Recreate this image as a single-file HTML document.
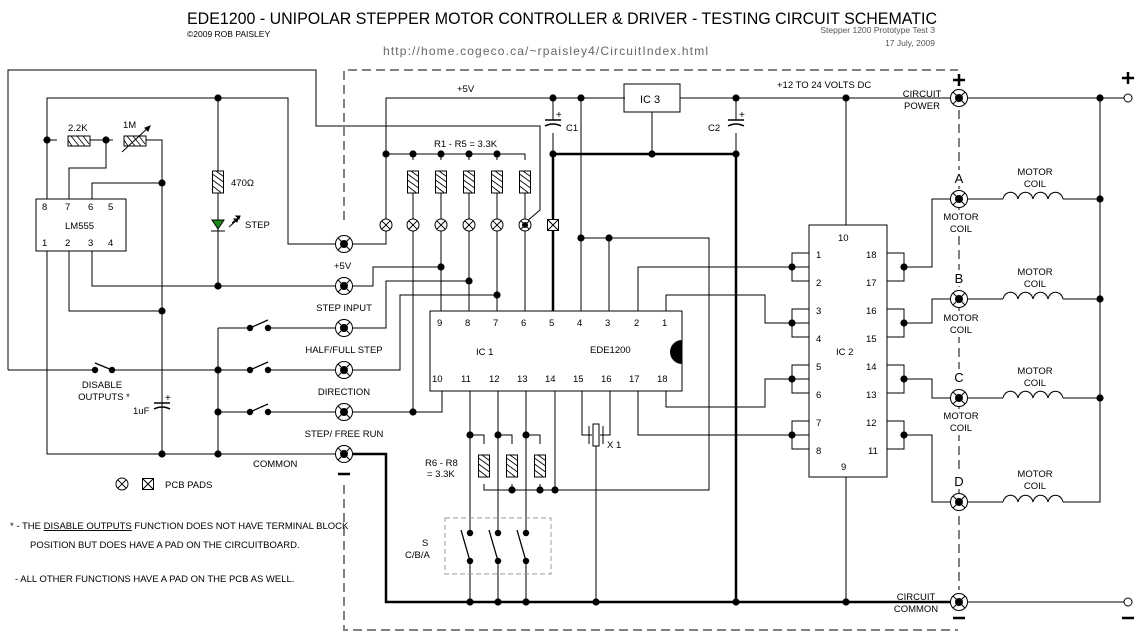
<!DOCTYPE html>
<html><head><meta charset="utf-8"><style>
html,body{margin:0;padding:0;background:#fff;}
svg{display:block;}
text{font-family:"Liberation Sans",sans-serif;font-size:9.5px;fill:#000;}
</style></head><body>
<svg width="1140" height="639" viewBox="0 0 1140 639" xmlns="http://www.w3.org/2000/svg">
<defs>
<g id="tp"><circle r="8.5" fill="#fff" stroke="#000" stroke-width="1"/><path d="M-6,-6L6,6M-6,6L6,-6" stroke="#000" stroke-width="1"/><circle r="4" fill="#000"/></g>
<g id="pp"><circle r="6" fill="#fff" stroke="#000" stroke-width="1"/><path d="M-4.2,-4.2L4.2,4.2M-4.2,4.2L4.2,-4.2" stroke="#000"/></g>
<g id="sp"><rect x="-5.5" y="-5.5" width="11" height="11" fill="#fff" stroke="#000"/><path d="M-5.5,-5.5L5.5,5.5M-5.5,5.5L5.5,-5.5" stroke="#000"/></g>
<g id="rv"><rect x="-5.5" y="-11" width="11" height="22" fill="#fff" stroke="#000"/><path d="M-5.5,-8L5.5,0M-5.5,-2L5.5,6M-5.5,4L3,10.5M-2,-11L5.5,-5.5" stroke="#000" stroke-width="0.8"/></g>
<g id="rh"><rect x="-11" y="-5" width="22" height="10" fill="#fff" stroke="#000"/><path d="M-8,-5L0,5M-2,-5L6,5M4,-5L10,3M-11,-1L-7,5" stroke="#000" stroke-width="0.8"/></g>
<circle id="d" r="3.6" fill="#000"/>
<g id="coil"><path d="M0,0 C2,-9 13,-9 15,0 C17,-9 28,-9 30,0 C32,-9 43,-9 45,0 C47,-9 58,-9 60,0" fill="none" stroke="#000"/></g>
</defs>

<text x="187" y="24" style="font-size:17px" textLength="750" lengthAdjust="spacingAndGlyphs">EDE1200 - UNIPOLAR STEPPER MOTOR CONTROLLER &amp; DRIVER  -  TESTING CIRCUIT SCHEMATIC</text>
<text x="187" y="37" style="font-size:8.5px">©2009 ROB PAISLEY</text>
<text x="935" y="33" text-anchor="end" style="font-size:8.5px;fill:#555">Stepper 1200 Prototype Test 3</text>
<text x="935" y="46" text-anchor="end" style="font-size:8.5px;fill:#555">17 July, 2009</text>
<text x="383" y="55" style="font-size:12px;fill:#666" textLength="325">http://home.cogeco.ca/~rpaisley4/CircuitIndex.html</text>

<g stroke="#808080" stroke-width="2" stroke-dasharray="9,5" fill="none">
<path d="M344,220 L344,70 L958,70"/>
<path d="M344,485 L344,630 L958,630"/>
<path d="M959,110 L959,590"/>
</g>
<g fill="#fff">
<rect x="950" y="170" width="20" height="16"/><rect x="940" y="210" width="40" height="26"/>
<rect x="950" y="270" width="20" height="16"/><rect x="940" y="311" width="40" height="26"/>
<rect x="950" y="369" width="20" height="16"/><rect x="940" y="409" width="40" height="26"/>
<rect x="950" y="473" width="20" height="16"/>
</g>

<g stroke="#000" stroke-width="1" fill="none">
<path d="M8,370 L8,70 L316,70 L316,126 L540,126 L540,210 L526,222"/>
<rect x="36" y="199" width="90" height="52"/>
<path d="M47,199 L47,98 L288,98 L288,244 L386,244 L386,98 L625,98"/>
<path d="M47,140 L57,140 M79,140 L113,140 M135,140 L162,140 L162,454"/>
<path d="M69,199 L69,168 L106,168 L106,140"/>
<path d="M92,199 L92,183 L162,183"/>
<path d="M218,98 L218,231 M218,231 L218,286"/>
<path d="M92,251 L92,286 L344,286"/>
<path d="M69,251 L69,311 L162,311"/>
<path d="M47,251 L47,454 L344,454"/>
<path d="M218,328 L218,454"/>
<path d="M218,328 L250,328 M268,328 L344,328"/>
<path d="M8,370 L95,370 M112,370 L250,370 M268,370 L344,370"/>
<path d="M218,412 L250,412 M268,412 L344,412"/>
<path d="M162,405 L162,454"/>
<path d="M344,286 L373,286 L373,267 L441,267"/>
<path d="M344,328 L386,328 L386,281 L469,281"/>
<path d="M344,370 L400,370 L400,295 L497,295"/>
<path d="M344,412 L442,412 L442,391"/>
<path d="M386,154 L525,154 L525,160"/>
<path d="M413,154 L413,160 M441,154 L441,160 M469,154 L469,160 M497,154 L497,160"/>
<path d="M413,182 L413,412 M441,182 L441,311 M469,182 L469,311 M497,182 L497,311 M525,182 L525,311"/>
<rect x="624" y="84" width="56" height="28"/>
<path d="M680,98 L1128,98 M652,112 L652,154"/>
<path d="M553,98 L553,120 M553,133 L553,154 M736,98 L736,120 M736,133 L736,154"/>
<path d="M581,98 L581,311"/>
<path d="M581,238 L709,238 L709,490 L484,490 L484,484 M512,490 L512,484 M540,490 L540,484"/>
<path d="M609,238 L609,311"/>
<path d="M638,311 L638,267 L809,267 M666,311 L666,295 L765,295 L765,323 L809,323"/>
<rect x="430" y="311" width="252" height="80"/>
<path d="M470,391 L470,533 M498,391 L498,533 M526,391 L526,533"/>
<path d="M470,561 L470,602 M498,561 L498,602 M526,561 L526,602"/>
<path d="M470,435 L484,435 L484,444 M498,435 L512,435 L512,444 M526,435 L540,435 L540,444"/>
<path d="M555,391 L555,490"/>
<path d="M582,391 L582,435 L592,435 M610,391 L610,435 L600,435 M596,446 L596,602"/>
<path d="M638,391 L638,435 L809,435 M666,391 L666,407 L765,407 L765,379 L809,379"/>
<rect x="809" y="225" width="78" height="252"/>
<path d="M846,98 L846,225 M846,477 L846,602"/>
<path d="M809,253 L792,253 L792,281 L809,281 M809,309 L792,309 L792,337 L809,337 M809,365 L792,365 L792,393 L809,393 M809,421 L792,421 L792,449 L809,449"/>
<path d="M887,253 L904,253 L904,281 L887,281 M887,309 L904,309 L904,337 L887,337 M887,365 L904,365 L904,393 L887,393 M887,421 L904,421 L904,449 L887,449"/>
<path d="M904,267 L932,267 L932,199 L1003,199 M904,323 L932,323 L932,299 L1003,299 M904,379 L932,379 L932,398 L1003,398 M904,435 L932,435 L932,502 L1003,502"/>
<path d="M1063,199 L1100,199 M1063,299 L1100,299 M1063,398 L1100,398 M1063,502 L1100,502 L1100,98"/>
<path d="M959,602 L1124,602"/>
</g>
<g stroke="#000" stroke-width="2.5" fill="none">
<path d="M553,311 L553,154 L736,154 L736,602"/>
<path d="M344,454 L386,454 L386,602 L959,602"/>
</g>

<g stroke="#000" fill="none" stroke-width="1.5">
<path d="M545,120 L561,120 M545,126 Q553,122 561,126"/>
<path d="M728,120 L744,120 M728,126 Q736,122 744,126"/>
<path d="M154,403 L170,403 M154,409 Q162,405 170,409"/>
</g>
<text x="556" y="118" style="font-size:10px">+</text><text x="739" y="118" style="font-size:10px">+</text><text x="165" y="401" style="font-size:10px">+</text>
<text x="566" y="131">C1</text><text x="708" y="131">C2</text><text x="133" y="414">1uF</text>

<use href="#rh" x="79" y="141"/>
<use href="#rh" x="135" y="141"/>
<path d="M122,152 L150,126 M150,126 L145,128 L148,131 Z" stroke="#000" fill="#000"/>
<use href="#rv" x="218" y="182"/>
<use href="#rv" x="413" y="182"/><use href="#rv" x="441" y="182"/><use href="#rv" x="469" y="182"/><use href="#rv" x="497" y="182"/><use href="#rv" x="525" y="182"/>
<use href="#rv" x="484" y="466"/><use href="#rv" x="512" y="466"/><use href="#rv" x="540" y="466"/>
<path d="M212,220 L224,220 L218,229 Z" fill="#1a8a1a" stroke="#000"/>
<path d="M211,231 L225,231" stroke="#000"/>
<path d="M229,227 L238,219 M232,223 L240,216" stroke="#000"/>
<path d="M238,219 L234,219 L237,222Z M240,216 L236,216 L239,219Z" fill="#000" stroke="#000"/>
<rect x="593" y="424" width="6" height="22" fill="#fff" stroke="#000"/>
<path d="M589,426 L589,444 M603,426 L603,444" stroke="#000"/>

<g stroke="#000" stroke-width="1.3">
<path d="M95,363 L112,370"/>
<path d="M250,328 L268,320 M250,370 L268,362 M250,412 L268,404"/>
<path d="M461,530 L470,561 M489,530 L498,561 M517,530 L526,561"/>
</g>
<g fill="#000">
<circle cx="95" cy="370" r="3.2"/><circle cx="112" cy="370" r="3.2"/>
<circle cx="250" cy="328" r="3.2"/><circle cx="268" cy="328" r="3.2"/>
<circle cx="250" cy="370" r="3.2"/><circle cx="268" cy="370" r="3.2"/>
<circle cx="250" cy="412" r="3.2"/><circle cx="268" cy="412" r="3.2"/>
<circle cx="470" cy="533" r="3.2"/><circle cx="498" cy="533" r="3.2"/><circle cx="526" cy="533" r="3.2"/>
<circle cx="470" cy="561" r="3.2"/><circle cx="498" cy="561" r="3.2"/><circle cx="526" cy="561" r="3.2"/>
</g>
<rect x="445" y="518" width="106" height="56" fill="none" stroke="#999" stroke-dasharray="5,3"/>

<path d="M682,340 A11,11 0 0 0 682,364 Z" fill="#000"/>

<g fill="#000">
<use href="#d" x="47" y="140"/><use href="#d" x="106" y="140"/><use href="#d" x="162" y="183"/><use href="#d" x="218" y="98"/>
<use href="#d" x="218" y="286"/><use href="#d" x="162" y="311"/><use href="#d" x="162" y="454"/><use href="#d" x="218" y="454"/>
<use href="#d" x="218" y="370"/><use href="#d" x="218" y="412"/>
<use href="#d" x="386" y="154"/>
<use href="#d" x="553" y="98"/><use href="#d" x="581" y="98"/><use href="#d" x="736" y="98"/><use href="#d" x="846" y="98"/><use href="#d" x="1100" y="98"/>
<use href="#d" x="553" y="154"/><use href="#d" x="652" y="154"/><use href="#d" x="736" y="154"/>
<use href="#d" x="581" y="238"/><use href="#d" x="609" y="238"/>
<use href="#d" x="441" y="267"/><use href="#d" x="469" y="281"/><use href="#d" x="497" y="295"/><use href="#d" x="413" y="412"/>
<use href="#d" x="470" y="435"/><use href="#d" x="498" y="435"/><use href="#d" x="526" y="435"/>
<use href="#d" x="555" y="490"/>
<use href="#d" x="470" y="602"/><use href="#d" x="498" y="602"/><use href="#d" x="526" y="602"/><use href="#d" x="596" y="602"/><use href="#d" x="736" y="602"/><use href="#d" x="846" y="602"/>
<use href="#d" x="792" y="267"/><use href="#d" x="792" y="323"/><use href="#d" x="792" y="379"/><use href="#d" x="792" y="435"/>
<use href="#d" x="904" y="267"/><use href="#d" x="904" y="323"/><use href="#d" x="904" y="379"/><use href="#d" x="904" y="435"/>
<use href="#d" x="1100" y="199"/><use href="#d" x="1100" y="299"/><use href="#d" x="1100" y="398"/>
</g>
<g fill="#000">
<circle cx="413" cy="154" r="3.6"/><circle cx="441" cy="154" r="3.6"/><circle cx="469" cy="154" r="3.6"/><circle cx="497" cy="154" r="3.6"/>
<circle cx="512" cy="490" r="3.6"/><circle cx="540" cy="490" r="3.6"/>
</g>

<use href="#pp" x="386" y="225"/><use href="#pp" x="413" y="225"/><use href="#pp" x="441" y="225"/><use href="#pp" x="469" y="225"/><use href="#pp" x="497" y="225"/><use href="#pp" x="525" y="225"/>
<circle cx="525" cy="225" r="3" fill="#000"/>
<use href="#sp" x="553" y="225"/>
<use href="#pp" x="122" y="484"/><use href="#sp" x="148" y="484"/>
<text x="165" y="488">PCB PADS</text>

<use href="#tp" x="344" y="244"/><use href="#tp" x="344" y="286"/><use href="#tp" x="344" y="328"/><use href="#tp" x="344" y="370"/><use href="#tp" x="344" y="412"/><use href="#tp" x="344" y="454"/>
<use href="#tp" x="959" y="98"/><use href="#tp" x="959" y="199"/><use href="#tp" x="959" y="299"/><use href="#tp" x="959" y="398"/><use href="#tp" x="959" y="502"/><use href="#tp" x="959" y="602"/>
<circle cx="1128" cy="98" r="4" fill="#fff" stroke="#000"/><circle cx="1128" cy="602" r="4" fill="#fff" stroke="#000"/>
<path d="M953,80 L965,80 M959,74 L959,86 M1122,78 L1134,78 M1128,72 L1128,84" stroke="#000" stroke-width="2.5"/>
<path d="M338,474 L350,474 M953,618 L965,618 M1122,618 L1134,618" stroke="#000" stroke-width="2.5"/>

<use href="#coil" x="1003" y="199"/><use href="#coil" x="1003" y="299"/><use href="#coil" x="1003" y="398"/><use href="#coil" x="1003" y="502"/>

<text x="68" y="131">2.2K</text><text x="123" y="128">1M</text>
<text x="42" y="210">8</text><text x="65" y="210">7</text><text x="88" y="210">6</text><text x="108" y="210">5</text>
<text x="42" y="246">1</text><text x="65" y="246">2</text><text x="88" y="246">3</text><text x="108" y="246">4</text>
<text x="65" y="229">LM555</text>
<text x="231" y="186">470Ω</text><text x="245" y="228">STEP</text>
<text x="334" y="269">+5V</text>
<text x="344" y="311" text-anchor="middle">STEP INPUT</text>
<text x="344" y="353" text-anchor="middle">HALF/FULL STEP</text>
<text x="344" y="395" text-anchor="middle">DIRECTION</text>
<text x="344" y="437" text-anchor="middle">STEP/ FREE RUN</text>
<text x="253" y="467">COMMON</text>
<text x="102" y="388" text-anchor="middle">DISABLE</text>
<text x="104" y="400" text-anchor="middle">OUTPUTS *</text>
<text x="10" y="529">* - THE <tspan text-decoration="underline">DISABLE OUTPUTS</tspan> FUNCTION DOES NOT HAVE TERMINAL BLOCK</text>
<text x="30" y="548">POSITION BUT DOES HAVE A PAD ON THE CIRCUITBOARD.</text>
<text x="15" y="582">- ALL OTHER FUNCTIONS HAVE A PAD ON THE PCB AS WELL.</text>
<text x="457" y="92">+5V</text>
<text x="434" y="147">R1 - R5 = 3.3K</text>
<text x="640" y="103" style="font-size:11px">IC 3</text>
<text x="777" y="88">+12 TO 24 VOLTS DC</text>
<g style="font-size:12px">
<text x="437" y="326">9</text><text x="465" y="326">8</text><text x="493" y="326">7</text><text x="521" y="326">6</text><text x="549" y="326">5</text><text x="577" y="326">4</text><text x="605" y="326">3</text><text x="634" y="326">2</text><text x="662" y="326">1</text>
<text x="432" y="382">10</text><text x="461" y="382">11</text><text x="489" y="382">12</text><text x="517" y="382">13</text><text x="545" y="382">14</text><text x="573" y="382">15</text><text x="601" y="382">16</text><text x="629" y="382">17</text><text x="657" y="382">18</text>
<text x="476" y="355">IC 1</text>
<text x="838" y="241">10</text><text x="841" y="470">9</text><text x="836" y="355">IC 2</text>
<text x="816" y="258">1</text><text x="816" y="286">2</text><text x="816" y="314">3</text><text x="816" y="342">4</text><text x="816" y="370">5</text><text x="816" y="398">6</text><text x="816" y="426">7</text><text x="816" y="454">8</text>
<text x="866" y="258">18</text><text x="866" y="286">17</text><text x="866" y="314">16</text><text x="866" y="342">15</text><text x="866" y="370">14</text><text x="866" y="398">13</text><text x="866" y="426">12</text><text x="868" y="454">11</text>
<text x="959" y="183" text-anchor="middle" style="font-size:13px">A</text><text x="959" y="283" text-anchor="middle" style="font-size:13px">B</text><text x="959" y="382" text-anchor="middle" style="font-size:13px">C</text><text x="959" y="486" text-anchor="middle" style="font-size:13px">D</text>
</g>
<text x="590" y="353">EDE1200</text>
<text x="425" y="466">R6 - R8</text><text x="427" y="477">= 3.3K</text>
<text x="422" y="546">S</text><text x="405" y="558">C/B/A</text>
<text x="607" y="448">X 1</text>
<text x="922" y="97" text-anchor="middle">CIRCUIT</text><text x="922" y="109" text-anchor="middle">POWER</text>
<text x="916" y="600" text-anchor="middle">CIRCUIT</text><text x="916" y="612" text-anchor="middle">COMMON</text>
<g text-anchor="middle">
<text x="961" y="220">MOTOR</text><text x="961" y="232">COIL</text>
<text x="961" y="321">MOTOR</text><text x="961" y="333">COIL</text>
<text x="961" y="419">MOTOR</text><text x="961" y="431">COIL</text>
<text x="1035" y="175">MOTOR</text><text x="1035" y="187">COIL</text>
<text x="1035" y="275">MOTOR</text><text x="1035" y="287">COIL</text>
<text x="1035" y="374">MOTOR</text><text x="1035" y="386">COIL</text>
<text x="1035" y="477">MOTOR</text><text x="1035" y="489">COIL</text>
</g>
</svg>
</body></html>
